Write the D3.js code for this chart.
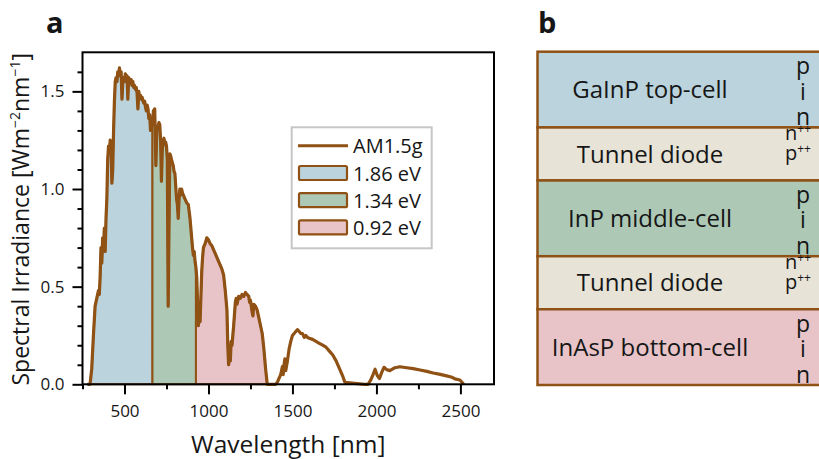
<!DOCTYPE html>
<html>
<head>
<meta charset="utf-8">
<script src="https://cdn.jsdelivr.net/npm/d3@7"></script>
<style>
  html, body { margin: 0; padding: 0; background: #fff; }
  svg { display: block; font-family: "Open Sans", "Noto Sans", sans-serif; }
</style>
</head>
<body>
<svg id="chart" width="819" height="459"></svg>
<script>
// ---------- DATA ----------
const wavelength = [280,295,305,315,325,335,345,350,355,360,365,370,375,380,385,390,395,400,405,410,415,420,425,430,435,440,445,450,455,460,465,470,475,480,485,490,495,500,505,510,515,520,525,530,535,540,545,550,555,560,565,570,575,580,585,590,595,600,605,610,615,620,625,630,635,640,645,650,655,660,667,672,680,687,692,700,705,710,715,720,725,730,735,740,745,750,755,760,765,770,775,780,790,795,800,810,815,820,825,830,835,840,845,850,860,870,880,890,900,905,910,915,920,925,930,935,940,945,950,955,960,965,970,980,990,1000,1010,1020,1030,1040,1050,1060,1070,1080,1090,1100,1110,1115,1120,1125,1130,1135,1140,1150,1160,1165,1170,1180,1190,1200,1210,1220,1230,1240,1245,1250,1260,1265,1270,1280,1290,1300,1310,1320,1330,1340,1350,1400,1410,1420,1430,1440,1445,1450,1455,1460,1470,1480,1490,1500,1510,1520,1530,1540,1550,1560,1565,1570,1580,1590,1600,1620,1640,1660,1680,1700,1720,1740,1760,1780,1800,1812,1930,1950,1965,1980,1992,2005,2018,2031,2045,2061,2080,2110,2140,2170,2219,2260,2300,2338,2380,2418,2450,2467,2497,2520];
const irradiance = [0,0,0.08,0.25,0.40,0.44,0.48,0.46,0.55,0.70,0.62,0.75,0.70,0.80,0.68,0.85,0.95,1.15,1.22,1.20,1.25,1.22,1.03,1.10,1.30,1.45,1.55,1.57,1.55,1.60,1.58,1.62,1.58,1.60,1.46,1.55,1.57,1.55,1.59,1.56,1.58,1.46,1.57,1.56,1.54,1.56,1.53,1.55,1.52,1.53,1.51,1.52,1.49,1.41,1.50,1.47,1.48,1.46,1.47,1.45,1.44,1.45,1.42,1.40,1.43,1.41,1.36,1.38,1.30,1.33,1.33,1.40,1.41,1.12,1.30,1.32,1.34,1.33,1.25,1.04,1.20,1.24,1.26,1.23,1.24,1.22,1.15,0.40,0.80,1.18,1.17,1.15,1.12,1.09,1.08,0.95,0.92,0.85,0.95,1.00,0.97,1.00,0.98,0.97,0.95,0.93,0.92,0.85,0.75,0.70,0.66,0.68,0.63,0.60,0.55,0.42,0.30,0.38,0.32,0.45,0.58,0.65,0.70,0.72,0.75,0.74,0.72,0.71,0.69,0.67,0.65,0.63,0.61,0.59,0.56,0.48,0.38,0.20,0.10,0.14,0.12,0.22,0.20,0.30,0.42,0.44,0.41,0.45,0.44,0.46,0.45,0.47,0.46,0.45,0.42,0.43,0.37,0.35,0.41,0.40,0.38,0.34,0.30,0.26,0.18,0.08,0,0,0.01,0.03,0.05,0.09,0.05,0.10,0.13,0.07,0.12,0.18,0.22,0.25,0.26,0.27,0.28,0.27,0.26,0.26,0.25,0.24,0.25,0.24,0.236,0.23,0.22,0.21,0.20,0.19,0.17,0.15,0.12,0.08,0.04,0.01,0,0,0.02,0.05,0.077,0.045,0.03,0.06,0.087,0.075,0.07,0.085,0.09,0.086,0.08,0.073,0.066,0.058,0.051,0.043,0.036,0.028,0.022,0,0];

const bandgapsEV = [1.86, 1.34, 0.92];
const bandLabels = ["1.86 eV", "1.34 eV", "0.92 eV"];
const bandColors = ["#bad3dc", "#adc9b6", "#e8c4c8"];
const curveLabel = "AM1.5g";

const xTicks = [500, 1000, 1500, 2000, 2500];
const xMinorTicks = [250, 750, 1250, 1750, 2250];
const yTicks = [0, 0.5, 1.0, 1.5];
const yMinorTicks = [0.1,0.2,0.3,0.4,0.6,0.7,0.8,0.9,1.1,1.2,1.3,1.4,1.6];

const layerNames = ["GaInP top-cell", "Tunnel diode", "InP middle-cell", "Tunnel diode", "InAsP bottom-cell"];
const layerWeights = [1.0, 0.7, 1.0, 0.7, 1.0];
const layerColors = ["#bad3dc", "#e7e3d7", "#adc9b6", "#e7e3d7", "#e8c4c8"];
const layerDoping = [["p","i","n"], ["n++","p++"], ["p","i","n"], ["n++","p++"], ["p","i","n"]];

// ---------- STYLE ----------
const brown = "#8f5114";
const ink = "#161616";
const svg = d3.select("#chart");

// ---------- PANEL A ----------
const x = d3.scaleLinear().domain([250, 2700]).range([82.5, 494]);
const y = d3.scaleLinear().domain([0, 1.7]).range([384.3, 52.3]);

const data = wavelength.map((w, i) => ({w, v: irradiance[i]}));
function interp(w) {
  for (let i = 1; i < data.length; i++) {
    if (data[i].w >= w) {
      const a = data[i-1], b = data[i];
      return a.v + (b.v - a.v) * (w - a.w) / (b.w - a.w);
    }
  }
  return 0;
}
const cutoffs = bandgapsEV.map(e => 1240 / e);
const starts = [wavelength[0], cutoffs[0], cutoffs[1]];

const area = d3.area().x(d => x(d.w)).y0(y(0)).y1(d => y(d.v));
cutoffs.forEach((c, i) => {
  const lo = starts[i];
  const seg = [{w: lo, v: interp(lo)}]
    .concat(data.filter(d => d.w > lo && d.w < c))
    .concat([{w: c, v: interp(c)}]);
  svg.append("path")
    .datum(seg)
    .attr("d", area)
    .attr("fill", bandColors[i])
    .attr("stroke", brown)
    .attr("stroke-width", 2)
    .attr("stroke-linejoin", "round");
});

svg.append("path")
  .datum(data)
  .attr("d", d3.line().x(d => x(d.w)).y(d => y(d.v)))
  .attr("fill", "none")
  .attr("stroke", brown)
  .attr("stroke-width", 3.2)
  .attr("stroke-linejoin", "round");

// axes
const xAxis = svg.append("g").attr("transform", `translate(0,${y(0)})`)
  .call(d3.axisBottom(x).tickValues(xTicks).tickSize(10).tickPadding(11).tickFormat(d3.format("d")));
const xMinor = svg.append("g").attr("transform", `translate(0,${y(0)})`)
  .call(d3.axisBottom(x).tickValues(xMinorTicks).tickSize(5).tickFormat(""));
const yAxis = svg.append("g").attr("transform", `translate(${x(250)},0)`)
  .call(d3.axisLeft(y).tickValues(yTicks).tickSize(10).tickPadding(8).tickFormat(d3.format(".1f")));
const yMinor = svg.append("g").attr("transform", `translate(${x(250)},0)`)
  .call(d3.axisLeft(y).tickValues(yMinorTicks).tickSize(5).tickFormat(""));
[xAxis, xMinor, yAxis, yMinor].forEach(g => {
  g.select(".domain").remove();
  g.selectAll(".tick line").attr("stroke", "#000").attr("stroke-width", 2);
  g.selectAll(".tick text").attr("fill", ink).style("font-size", "17px").style("font-family", '"Open Sans", sans-serif');
});

svg.append("rect")
  .attr("x", x(250)).attr("y", y(1.7))
  .attr("width", x(2700) - x(250)).attr("height", y(0) - y(1.7))
  .attr("fill", "none").attr("stroke", "#000").attr("stroke-width", 2);

svg.append("text").attr("x", (x(250) + x(2700)) / 2).attr("y", 453)
  .attr("text-anchor", "middle").style("font-size", "24.5px").attr("fill", ink)
  .text("Wavelength [nm]");

const yt = svg.append("text")
  .attr("transform", `translate(29,${(y(0) + y(1.7)) / 2 + 1}) rotate(-90)`)
  .attr("text-anchor", "middle").style("font-size", "23px").attr("fill", ink);
yt.append("tspan").text("Spectral Irradiance [Wm");
yt.append("tspan").text("−2").style("font-size", "14px").attr("dy", "-9");
yt.append("tspan").text("nm").attr("dy", "9");
yt.append("tspan").text("−1").style("font-size", "14px").attr("dy", "-9");
yt.append("tspan").text("]").attr("dy", "9");

svg.append("text").attr("x", 46).attr("y", 33).style("font-size", "29px").style("font-weight", "bold").attr("fill", ink).text("a");
svg.append("text").attr("x", 538).attr("y", 33).style("font-size", "29px").style("font-weight", "bold").attr("fill", ink).text("b");

// legend
const lg = svg.append("g");
lg.append("rect").attr("x", 291.7).attr("y", 127.3).attr("width", 140).attr("height", 121)
  .attr("fill", "#fff").attr("stroke", "#c6c6c6").attr("stroke-width", 2);
lg.append("line").attr("x1", 298).attr("x2", 348).attr("y1", 145.7).attr("y2", 145.7)
  .attr("stroke", brown).attr("stroke-width", 3);
lg.append("text").attr("x", 353).attr("y", 152.5).style("font-size", "20px").attr("fill", ink).text(curveLabel);
bandLabels.forEach((lab, i) => {
  const yy = 166 + i * 27.2;
  lg.append("rect").attr("x", 299).attr("y", yy).attr("width", 48).attr("height", 14).attr("rx", 1.5)
    .attr("fill", bandColors[i]).attr("stroke", brown).attr("stroke-width", 2.2);
  lg.append("text").attr("x", 353).attr("y", yy + 14.8).style("font-size", "20px").attr("fill", ink).text(lab);
});

// ---------- PANEL B ----------
const totalW = d3.sum(layerWeights);
const ly = d3.scaleLinear().domain([0, totalW]).range([51.7, 385]);
let acc = 0;
const layers = layerNames.map((n, i) => { const o = {name: n, y0: acc, y1: acc + layerWeights[i], color: layerColors[i], dop: layerDoping[i]}; acc += layerWeights[i]; return o; });

const pb = svg.append("g");
layers.forEach(L => {
  pb.append("rect").attr("x", 537.5).attr("y", ly(L.y0)).attr("width", 300).attr("height", ly(L.y1) - ly(L.y0))
    .attr("fill", L.color).attr("stroke", brown).attr("stroke-width", 2.5);
});
layers.forEach(L => {
  const cy = (ly(L.y0) + ly(L.y1)) / 2;
  pb.append("text").attr("x", 650).attr("y", cy).attr("dy", "0.36em").attr("text-anchor", "middle")
    .style("font-size", "24px").attr("fill", ink).text(L.name);
  if (L.dop.length === 3) {
    const t = pb.append("text").attr("text-anchor", "middle")
      .style("font-size", "23px").attr("fill", ink);
    L.dop.forEach((d, k) => {
      t.append("tspan").attr("x", 803).attr("y", cy + 10 + (k - 1) * 25.5).text(d);
    });
  } else {
    const t = pb.append("text").style("font-size", "20px").attr("fill", ink);
    L.dop.forEach((d, k) => {
      t.append("tspan").attr("x", 785).attr("y", cy - 14 + k * 20).text(d[0]);
      t.append("tspan").text(d.slice(1)).style("font-size", "12px").attr("dy", "-7");
    });
  }
});
</script>
</body>
</html>
